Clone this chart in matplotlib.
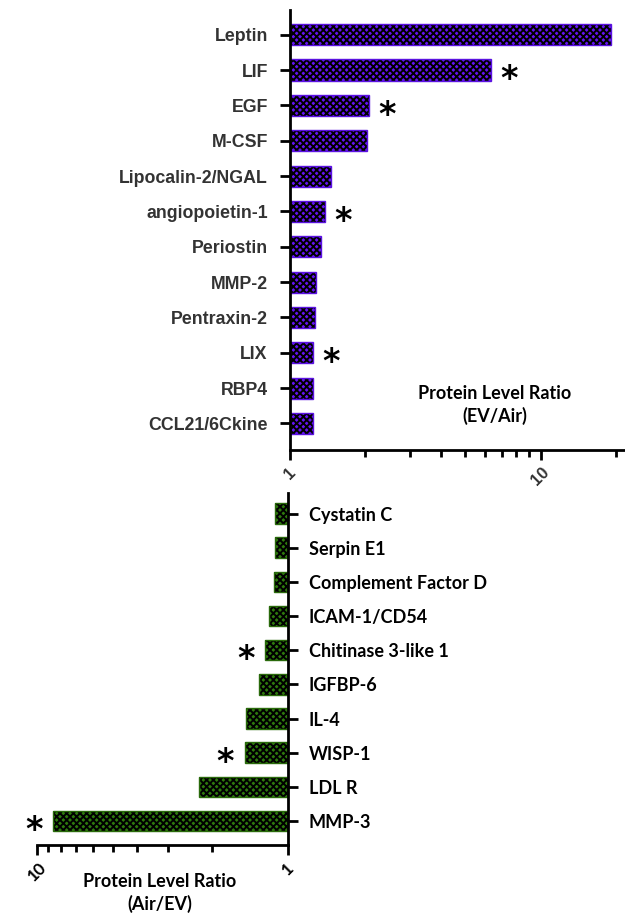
import matplotlib.pyplot as plt
import matplotlib.ticker as mticker
import numpy as np

# EV/Air (up-regulated) proteins
up_names = ["Leptin", "LIF", "EGF", "M-CSF", "Lipocalin-2/NGAL", "angiopoietin-1",
            "Periostin", "MMP-2", "Pentraxin-2", "LIX", "RBP4", "CCL21/6Ckine"]
up_vals = [19.0, 6.35, 2.07, 2.03, 1.46, 1.38, 1.33, 1.27, 1.26, 1.24, 1.23, 1.23]
up_sig = [False, True, True, False, False, True, False, False, False, True, False, False]

# Air/EV (down-regulated) proteins
down_names = ["Cystatin C", "Serpin E1", "Complement Factor D", "ICAM-1/CD54",
              "Chitinase 3-like 1", "IGFBP-6", "IL-4", "WISP-1", "LDL R", "MMP-3"]
down_vals = [1.13, 1.13, 1.14, 1.19, 1.23, 1.31, 1.47, 1.49, 2.27, 8.6]
down_sig = [False, False, False, False, True, False, False, True, False, True]

W, H = 625, 922
fig = plt.figure(figsize=(W / 100, H / 100), dpi=100)
plt.rcParams['hatch.linewidth'] = 1.4


def fx(px):
    return px / W


def fy(py):
    return 1 - py / H


def hbars(ax, vals, face, edge):
    y = np.arange(len(vals))
    ax.barh(y, vals, left=1, height=0.6, color=face, edgecolor='black',
            hatch='xxxxx', linewidth=0)
    ax.barh(y, vals, left=1, height=0.6, fill=False, edgecolor=edge, linewidth=1)
    return y


def style(ax):
    for s in ['top', 'right', 'left', 'bottom']:
        ax.spines[s].set_visible(False)
    ax.tick_params(axis='x', which='major', length=7, width=2, direction='out')
    ax.tick_params(axis='x', which='minor', length=5, width=2, direction='out')
    ax.tick_params(axis='y', length=7, width=2, direction='out', pad=9)


# ---- top panel ----
ax1 = fig.add_axes([fx(290), fy(450), fx(625) - fx(290), fy(10) - fy(450)])
ax1.set_xscale('log')
y1 = hbars(ax1, [v - 1 for v in up_vals], '#6414f2', '#5a12e0')
ax1.set_xlim(1, 21.7)
ax1.set_ylim(len(up_vals) - 0.25, -0.7)
style(ax1)
ax1.spines['left'].set_visible(True)
ax1.spines['bottom'].set_visible(True)
ax1.spines['left'].set_linewidth(2)
ax1.spines['bottom'].set_linewidth(2)
ax1.set_yticks(y1)
ax1.set_yticklabels(up_names, fontfamily='Liberation Sans', fontweight='bold',
                    fontsize=12.8, color='#333333')
ax1.xaxis.set_major_locator(mticker.FixedLocator([1, 10]))
ax1.xaxis.set_major_formatter(mticker.FixedFormatter(['1', '10']))
ax1.xaxis.set_minor_locator(mticker.LogLocator(base=10, subs=np.arange(2, 10)))
ax1.xaxis.set_minor_formatter(mticker.NullFormatter())
for lab in ax1.get_xticklabels():
    lab.set_rotation(45)
    lab.set_fontfamily('Liberation Sans')
    lab.set_fontweight('bold')
    lab.set_fontsize(12)
    lab.set_color('#333333')
for i, (v, s) in enumerate(zip(up_vals, up_sig)):
    if s:
        ax1.annotate('*', xy=(v, i), xytext=(13, -7), textcoords='offset points',
                     ha='center', va='center', fontsize=24, fontweight='bold',
                     fontfamily='DejaVu Sans')
fig.text(fx(495), fy(405), 'Protein Level Ratio\n(EV/Air)', ha='center', va='center',
         fontfamily='Lato', fontweight='bold', fontsize=13, linespacing=1.35)

# ---- bottom panel ----
ax2 = fig.add_axes([fx(37), fy(845), fx(288) - fx(37), fy(493) - fy(845)])
ax2.set_xscale('log')
y2 = hbars(ax2, [v - 1 for v in down_vals], '#2e7a0e', '#2a6a0c')
ax2.set_xlim(10, 1)
ax2.set_ylim(len(down_vals) - 0.3, -0.6)
style(ax2)
ax2.spines['right'].set_visible(True)
ax2.spines['bottom'].set_visible(True)
ax2.spines['right'].set_linewidth(2)
ax2.spines['bottom'].set_linewidth(2)
ax2.yaxis.tick_right()
ax2.tick_params(axis='y', pad=8)
ax2.set_yticks(y2)
ax2.set_yticklabels(down_names, fontfamily='Lato', fontweight='bold', fontsize=13)
ax2.xaxis.set_major_locator(mticker.FixedLocator([1, 10]))
ax2.xaxis.set_major_formatter(mticker.FixedFormatter(['1', '10']))
ax2.xaxis.set_minor_locator(mticker.LogLocator(base=10, subs=np.arange(2, 10)))
ax2.xaxis.set_minor_formatter(mticker.NullFormatter())
for lab in ax2.get_xticklabels():
    lab.set_rotation(45)
    lab.set_fontfamily('Lato')
    lab.set_fontweight('bold')
    lab.set_fontsize(12)
for i, (v, s) in enumerate(zip(down_vals, down_sig)):
    if s:
        ax2.annotate('*', xy=(v, i), xytext=(-14, -7), textcoords='offset points',
                     ha='center', va='center', fontsize=24, fontweight='bold',
                     fontfamily='DejaVu Sans')
fig.text(fx(160), fy(893), 'Protein Level Ratio\n(Air/EV)', ha='center', va='center',
         fontfamily='Lato', fontweight='bold', fontsize=13, linespacing=1.35)

fig.savefig('out.png', dpi=100)
